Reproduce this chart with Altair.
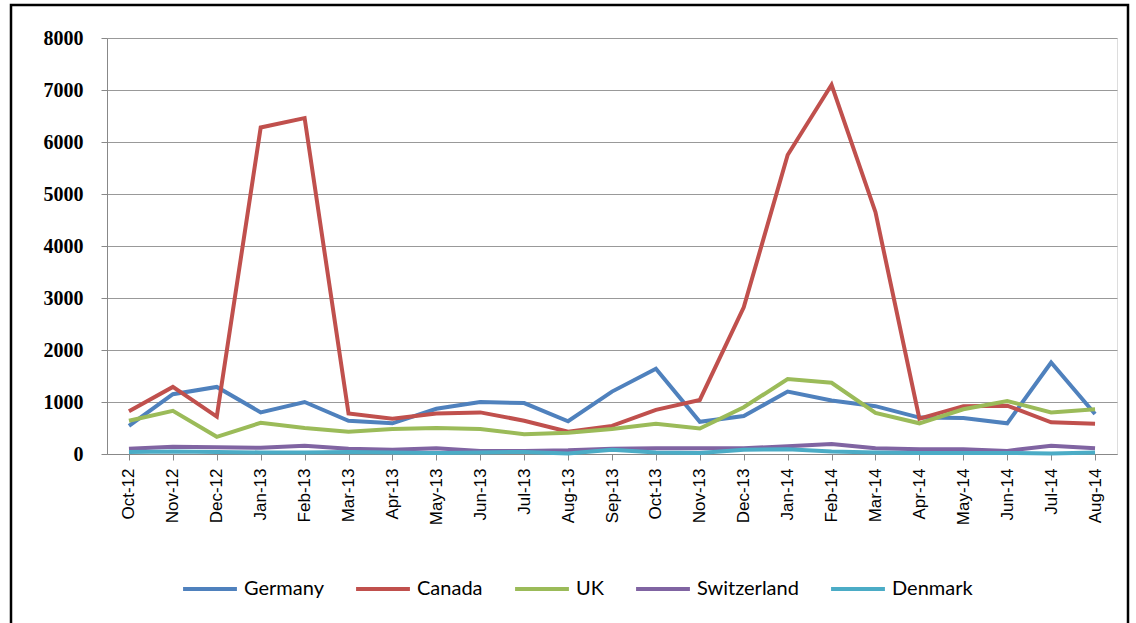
import altair as alt
import pandas as pd

months = ["Oct-12", "Nov-12", "Dec-12", "Jan-13", "Feb-13", "Mar-13", "Apr-13", "May-13",
          "Jun-13", "Jul-13", "Aug-13", "Sep-13", "Oct-13", "Nov-13", "Dec-13", "Jan-14",
          "Feb-14", "Mar-14", "Apr-14", "May-14", "Jun-14", "Jul-14", "Aug-14"]

germany = [540, 1150, 1290, 800, 1000, 640, 590, 870, 1000, 980, 630, 1200, 1640, 620, 730,
           1200, 1030, 920, 700, 690, 590, 1760, 770]
canada = [820, 1290, 720, 6280, 6460, 780, 680, 780, 800, 640, 430, 540, 850, 1040, 2820,
          5750, 7100, 4650, 680, 920, 930, 610, 580]
uk = [640, 830, 330, 600, 500, 430, 480, 500, 480, 380, 410, 480, 580, 490, 900,
      1440, 1370, 790, 590, 860, 1020, 800, 860]
switzerland = [100, 140, 130, 120, 160, 100, 80, 110, 60, 60, 70, 100, 110, 110, 110,
               150, 190, 110, 90, 90, 60, 160, 110]
denmark = [40, 50, 40, 30, 30, 40, 30, 20, 30, 40, 10, 80, 30, 20, 80,
           90, 50, 30, 20, 20, 20, 10, 30]

series_names = ["Germany", "Canada", "UK", "Switzerland", "Denmark"]
series_colors = ["#4F81BD", "#C0504D", "#9BBB59", "#8064A2", "#4BACC6"]
series_values = [germany, canada, uk, switzerland, denmark]

rows = []
for name, vals in zip(series_names, series_values):
    for m, v in zip(months, vals):
        rows.append({"Month": m, "Country": name, "Value": v})
df = pd.DataFrame(rows)

lines = alt.Chart(df).mark_line(strokeWidth=4).encode(
    x=alt.X("Month:N", sort=months, title=None,
            scale=alt.Scale(paddingInner=0, paddingOuter=0.5),
            axis=alt.Axis(labelAngle=270, labelFont="Liberation Sans", labelFontSize=17,
                          labelColor="#000", labelPadding=8,
                          domainColor="#888", tickColor="#888", tickSize=6, grid=False,
                          labelAlign="right", labelBaseline="middle")),
    y=alt.Y("Value:Q", title=None,
            scale=alt.Scale(domain=[0, 8000], nice=False),
            axis=alt.Axis(values=[0, 1000, 2000, 3000, 4000, 5000, 6000, 7000, 8000],
                          format="d",
                          labelFont="Liberation Serif", labelFontSize=20,
                          labelFontWeight="bold", labelColor="#000", labelPadding=18,
                          domainColor="#888", tickColor="#888", tickSize=6,
                          gridColor="#999", gridWidth=1)),
    color=alt.Color("Country:N", sort=series_names,
                    scale=alt.Scale(domain=series_names, range=series_colors),
                    legend=alt.Legend(orient="none", legendX=74, legendY=522, direction="horizontal",
                                      title=None, symbolType="stroke", symbolSize=2900,
                                      symbolStrokeWidth=4, labelFont="Lato",
                                      labelFontSize=20, labelColor="#000", columnPadding=24,
                                      labelOffset=5)),
)

frame = alt.Chart(pd.DataFrame({"a": [0]})).mark_rect(
    fill=None, stroke="#000", strokeWidth=2.5, clip=False
).encode(x=alt.value(-96), x2=alt.value(1021), y=alt.value(-33), y2=alt.value(600))

chart = alt.layer(frame, lines).properties(
    width=1010, height=416,
    autosize=alt.AutoSizeParams(type="none"),
    padding={"left": 107, "top": 38, "right": 19, "bottom": 169},
).configure_view(stroke=None).configure(background="#ffffff")

chart.save("out.html", embed_options={"renderer": "svg", "actions": False})
